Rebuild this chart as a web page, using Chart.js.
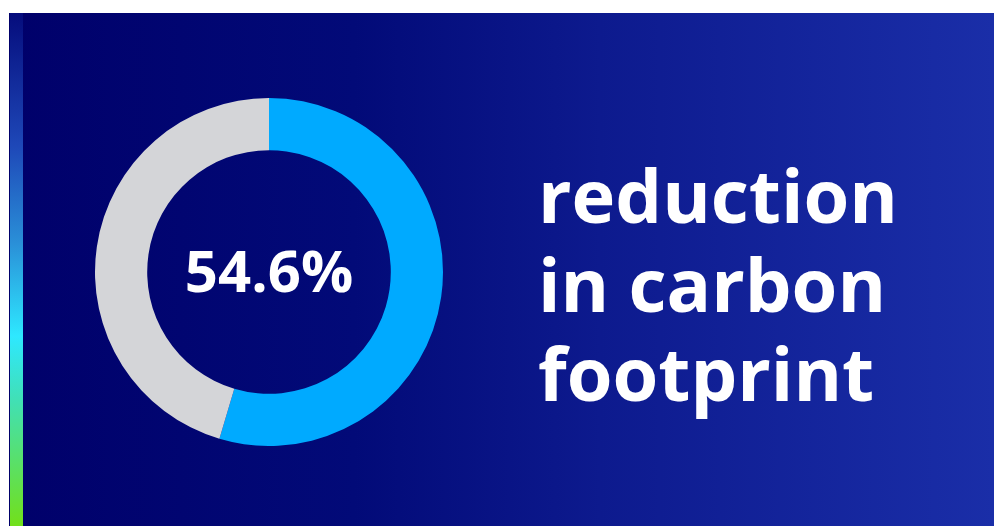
<!DOCTYPE html>
<html>
<head>
<meta charset="utf-8">
<script src="https://cdn.jsdelivr.net/npm/chart.js@4"></script>
<style>
  html, body { margin: 0; padding: 0; background: #fff; }
  body { width: 995px; height: 526px; position: relative; overflow: hidden; font-family: "Open Sans", sans-serif; }
  #panel {
    position: absolute; left: 9px; top: 13px; width: 985px; height: 513px;
    background: linear-gradient(to right, #00006a 0%, #020a78 35%, #0d1a8e 60%, #1a2ea8 100%);
  }
  #bar {
    position: absolute; left: 10px; top: 13px; width: 13px; height: 513px;
    background: linear-gradient(to bottom, #050c7c 0%, #1e48b8 26%, #2a90d8 45%, #2ee8ff 63%, #40e0b8 75%, #72e01a 100%);
  }
  #chartBox { position: absolute; left: 95px; top: 98px; width: 348px; height: 348px; }
  #center {
    position: absolute; left: 95px; top: 241px; width: 348px; text-align: center;
    color: #fff; font-weight: 700; font-size: 58px; line-height: 58px;
  }
  #caption {
    position: absolute; left: 538px; top: 150px;
    color: #fff; font-weight: 700; font-size: 74px; line-height: 89px; white-space: nowrap;
  }
</style>
</head>
<body>
<div id="panel"></div>
<div id="bar"></div>
<div id="chartBox"><canvas id="donut"></canvas></div>
<div id="center"></div>
<div id="caption"></div>
<script>
const categories = ["reduction", "remaining"];
const values = [54.6, 45.4];
const sliceColors = ["#00aaff", "#d4d5d8"];
const captionLines = ["reduction", "in carbon", "footprint"];

document.getElementById("center").textContent = values[0].toFixed(1) + "%";
document.getElementById("caption").innerHTML = captionLines.join("<br>");

new Chart(document.getElementById("donut"), {
  type: "doughnut",
  data: {
    labels: categories,
    datasets: [{
      data: values,
      backgroundColor: sliceColors,
      borderWidth: 0
    }]
  },
  options: {
    responsive: true,
    maintainAspectRatio: false,
    animation: false,
    cutout: "70%",
    layout: { padding: 0 },
    plugins: {
      legend: { display: false },
      tooltip: { enabled: false },
      title: { display: false }
    }
  }
});
</script>
</body>
</html>
